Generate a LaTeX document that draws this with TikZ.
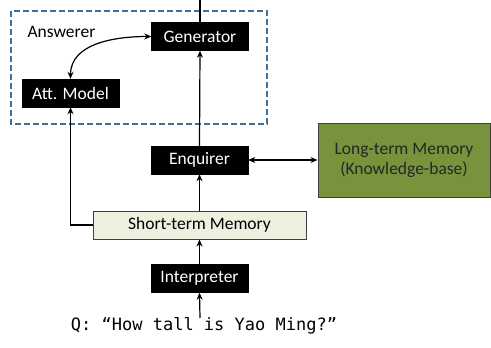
\documentclass[tikz,border=0pt]{standalone}
\usepackage{fontspec}
\setmainfont{Carlito}
\newfontfamily\qmono{DejaVu Sans Mono}
\usetikzlibrary{arrows.meta}
\definecolor{dashblue}{HTML}{41719C}
\definecolor{stmfill}{HTML}{EBF1DE}
\definecolor{ltmfill}{HTML}{77933C}
\definecolor{boxline}{HTML}{3F3F3F}
\newcommand{\boxfont}{\fontsize{17.5}{20}\selectfont}
\tikzset{
  blackbox/.style={draw=black, fill=black, text=white, inner sep=0pt,
    minimum width=97pt, minimum height=28pt, font=\boxfont},
  stmbox/.style={draw=boxline, fill=stmfill, line width=1pt, inner sep=0pt,
    minimum width=213pt, minimum height=28pt, font=\boxfont},
  ltmbox/.style={draw=boxline, fill=ltmfill, line width=1pt, inner sep=0pt,
    minimum width=172pt, minimum height=74pt, align=center,
    text=black!85, font=\boxfont},
  flow/.style={line width=1.2pt, -{Stealth[length=7pt,width=6pt]}},
  both/.style={line width=1.2pt, {Stealth[length=7pt,width=6pt]}-{Stealth[length=7pt,width=6pt]}},
}
\begin{document}
\begin{tikzpicture}[x=1pt, y=-1pt]
  \useasboundingbox (0,0) rectangle (491,348);
  % answerer group
  \draw[dashblue, line width=1.3pt, dash pattern=on 6pt off 3pt] (11,11) rectangle (267,124);
  \node[anchor=west, font=\boxfont] (answ) at (24,32) {Answerer};
  % modules
  \node[blackbox] (gen) at (200,36.5) {Generator};
  \node[blackbox] (att) at (70.5,93) {Att. Model};
  \node[blackbox] (enq) at (199.5,160) {Enquirer};
  \node[stmbox] (stm) at (199.5,225) {Short-term Memory};
  \node[blackbox] (int) at (199.5,278.5) {Interpreter};
  \node[ltmbox] (ltm) at (404,160) {Long-term Memory\\(Knowledge-base)};
  \node[font=\qmono\fontsize{17}{20}\selectfont, inner sep=0pt] (q) at (204,326) {Q: “How tall is Yao Ming?”};
  \coordinate (out) at (200,0);
  \coordinate (qtop) at (200,318);
  \coordinate (bend) at (70.5,225);
  % connectors
  \draw[line width=1.2pt] (gen.north) -- (out);
  \draw[flow] (qtop) -- (int.south);
  \draw[flow] (int.north) -- (stm.south);
  \draw[flow] (stm.north) -- (enq.south);
  \draw[flow] (enq.north) -- (gen.south);
  \draw[both] (enq.east) -- (ltm.west);
  \draw[flow] (stm.west) -- (bend) -- (att.south);
  \draw[both] (gen.west) to[out=180, in=90] (att.north);
\end{tikzpicture}
\end{document}
